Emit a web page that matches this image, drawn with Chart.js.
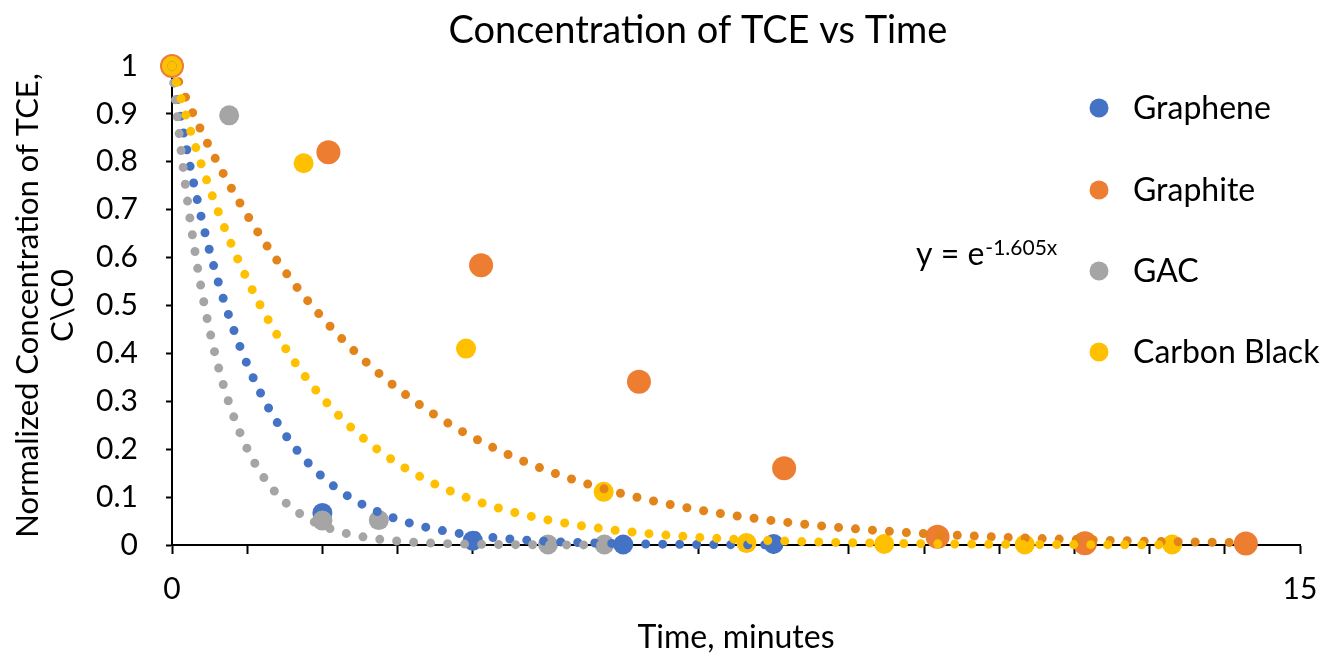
<!DOCTYPE html>
<html>
<head>
<meta charset="utf-8">
<title>Concentration of TCE vs Time</title>
<script src="https://cdn.jsdelivr.net/npm/chart.js@4.4.1/dist/chart.umd.min.js"></script>
<style>
  body { margin: 0; background: #fff; }
  #wrap { width: 1322px; height: 657px; }
</style>
</head>
<body>
<div id="wrap"><canvas id="tceChart" width="1322" height="657"></canvas></div>
<script>
// measured values (time in minutes, C/C0)
var grapheneTime = [0, 2, 4, 6, 8];
var grapheneConc = [1, 0.067, 0.009, 0.001, 0.002];
var graphiteTime = [0, 2.08, 4.11, 6.21, 8.14, 10.18, 12.14, 14.28];
var graphiteConc = [1, 0.82, 0.584, 0.341, 0.16, 0.017, 0.0035, 0.003];
var gacTime = [0, 0.76, 2, 2.75, 5, 5.75];
var gacConc = [1, 0.897, 0.051, 0.052, 0.001, 0.001];
var carbonTime = [0, 1.75, 3.91, 5.74, 7.64, 9.47, 11.34, 13.3];
var carbonConc = [1, 0.797, 0.41, 0.111, 0.004, 0.002, 0.001, 0.001];

var seriesNames = ["Graphene", "Graphite", "GAC", "Carbon Black"];
var markerColors = ["#4472C4", "#ED7D31", "#A5A5A5", "#FFC000"];
var trendColors = ["#4472C4", "#E3841A", "#A5A5A5", "#FFC000"];
// exponential trendline rates, y = e^(-k x)
var trendRate = [0.975, 0.373, 1.605, 0.59];
var xTickLabels = [0, 15];
var chartTitle = "Concentration of TCE vs Time";

var allTimes = [grapheneTime, graphiteTime, gacTime, carbonTime];
var allConc = [grapheneConc, graphiteConc, gacConc, carbonConc];

function toPoints(xs, ys) {
  return xs.map(function (x, i) { return { x: x, y: ys[i] }; });
}

// excel style exponential trendline over the series' time range
function trendPoints(k, xs) {
  var pts = [];
  var end = Math.max.apply(null, xs);
  for (var x = 0; x <= end + 1e-9; x += 0.02) {
    pts.push({ x: x, y: Math.exp(-k * x) });
  }
  return pts;
}

var datasets = [];
var pointOrder = [8, 7, 6, 5];
for (var i = 0; i < 4; i++) {
  datasets.push({
    label: seriesNames[i],
    data: toPoints(allTimes[i], allConc[i]),
    backgroundColor: markerColors[i],
    borderColor: markerColors[i],
    pointRadius: i === 1 ? 12 : 10,
    pointHoverRadius: i === 1 ? 12 : 10,
    pointBorderWidth: 0,
    showLine: false,
    clip: false,
    order: pointOrder[i]
  });
}
for (var j = 0; j < 4; j++) {
  datasets.push({
    label: seriesNames[j] + " trend",
    data: trendPoints(trendRate[j], allTimes[j]),
    showLine: true,
    borderColor: trendColors[j],
    borderWidth: 9,
    borderDash: [0, 17],
    borderCapStyle: "round",
    pointRadius: 0,
    pointHoverRadius: 0,
    fill: false,
    clip: false,
    tension: 0,
    order: 4 - j
  });
}

// title sits a bit left of the plot centre, like the original
var topTitle = {
  id: "topTitle",
  afterDraw: function (chart) {
    var ctx = chart.ctx;
    ctx.save();
    ctx.fillStyle = "#000";
    ctx.font = "38px Lato";
    ctx.textAlign = "center";
    ctx.textBaseline = "middle";
    ctx.fillText(chartTitle, 698, 31);
    ctx.restore();
  }
};

var sideLegend = {
  id: "sideLegend",
  afterDraw: function (chart) {
    var ctx = chart.ctx;
    var ys = [108, 190, 271, 352];
    ctx.save();
    ctx.font = "32px Lato";
    ctx.textBaseline = "middle";
    ctx.textAlign = "left";
    for (var i = 0; i < 4; i++) {
      ctx.fillStyle = markerColors[i];
      ctx.beginPath();
      ctx.arc(1099, ys[i], 9.5, 0, Math.PI * 2);
      ctx.fill();
      ctx.fillStyle = "#000";
      ctx.fillText(seriesNames[i], 1133, ys[i] + 1);
    }
    ctx.restore();
  }
};

var equationLabel = {
  id: "equationLabel",
  afterDraw: function (chart) {
    var ctx = chart.ctx;
    ctx.save();
    ctx.fillStyle = "#000";
    ctx.textBaseline = "alphabetic";
    ctx.font = "32px Lato";
    var base = "y = e";
    ctx.fillText(base, 916, 265);
    var w = ctx.measureText(base).width;
    ctx.font = "21px Lato";
    ctx.fillText("-" + trendRate[2].toFixed(3) + "x", 916 + w + 1, 255);
    ctx.restore();
  }
};

Chart.defaults.font.family = "Lato";
Chart.defaults.color = "#000";

new Chart(document.getElementById("tceChart"), {
  type: "scatter",
  data: { datasets: datasets },
  options: {
    responsive: false,
    animation: false,
    layout: { padding: { left: 0, right: 22, top: 66, bottom: 0 } },
    plugins: {
      legend: { display: false },
      tooltip: { enabled: false },
      title: { display: false }
    },
    scales: {
      x: {
        type: "linear",
        min: 0,
        max: 15,
        afterFit: function (s) {
          s.height = 112;
          s.paddingLeft = 0;
          s.paddingRight = 0;
        },
        ticks: {
          stepSize: 1,
          autoSkip: false,
          maxRotation: 0,
          padding: 17,
          font: { size: 30 },
          callback: function (v) {
            return xTickLabels.indexOf(v) >= 0 ? String(v) : "";
          }
        },
        grid: {
          drawOnChartArea: false,
          drawTicks: true,
          tickLength: 9,
          tickWidth: 2,
          tickColor: "#000"
        },
        border: { display: true, color: "#000", width: 2 },
        title: {
          display: true,
          text: "Time, minutes",
          font: { size: 32 },
          padding: { top: 0, bottom: 0 }
        }
      },
      y: {
        min: 0,
        max: 1,
        afterFit: function (s) { s.width = 172; },
        ticks: {
          stepSize: 0.1,
          padding: 28,
          font: { size: 30 },
          callback: function (v) {
            return String(Math.round(v * 10) / 10);
          }
        },
        grid: {
          drawOnChartArea: false,
          drawTicks: true,
          tickLength: 6,
          tickWidth: 2,
          tickColor: "#000"
        },
        border: { display: true, color: "#000", width: 2 },
        title: {
          display: true,
          text: ["Normalized Concentration of TCE,", "C\\C0"],
          font: { size: 31, lineHeight: 1.15 },
          padding: { top: 10, bottom: 0 }
        }
      }
    }
  },
  plugins: [topTitle, sideLegend, equationLabel]
});
</script>
</body>
</html>
